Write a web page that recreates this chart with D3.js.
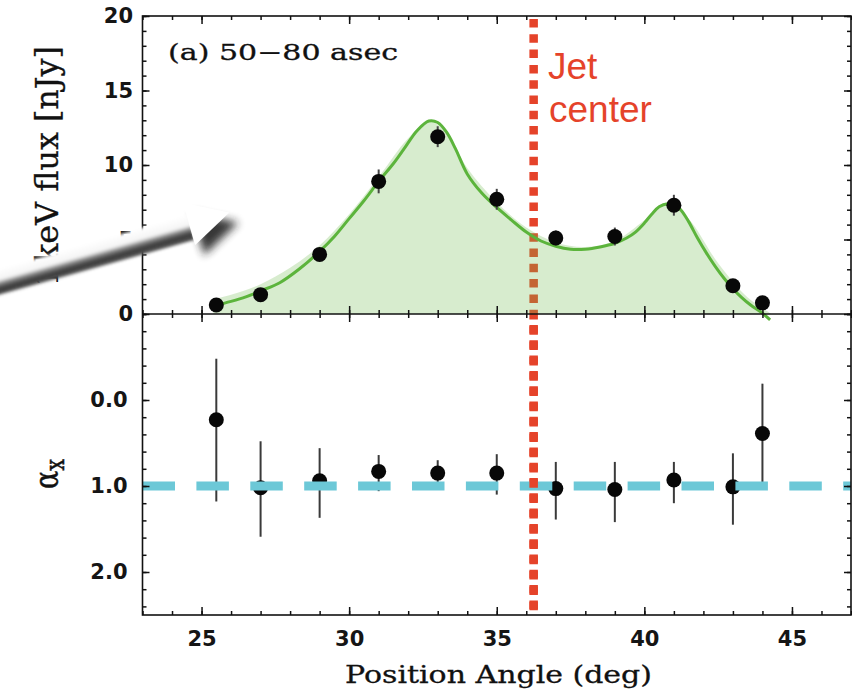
<!DOCTYPE html>
<html><head><meta charset="utf-8">
<script src="https://cdn.jsdelivr.net/npm/d3@7"></script>
<style>body{margin:0;background:#fff}svg{display:block}</style>
</head><body>
<svg id="c" width="852" height="691"></svg>
<script>
// ---- data ----
const posAngle = [25.5,27,29,31,33,35,37,39,41,43,44];
const flux     = [0.6,1.3,4.0,8.9,11.9,7.7,5.1,5.2,7.3,1.9,0.75];
const fluxErr  = [0.3,0.3,0.4,0.8,0.7,0.7,0.5,0.6,0.7,0.4,0.3];
const alphaX   = [0.23,1.02,0.94,0.83,0.85,0.85,1.03,1.04,0.93,1.01,0.39];
const alphaLo  = [-0.48,0.48,0.56,0.64,0.70,0.63,0.72,0.72,0.72,0.62,-0.19];
const alphaHi  = [1.18,1.59,1.37,1.06,0.99,1.10,1.39,1.42,1.20,1.45,0.97];
const modelX = [25.4,26,26.5,27,27.65,28.3,29,29.5,30,30.5,31,31.5,31.9,32.3,32.7,33.0,33.3,33.6,34.0,34.5,35,35.5,36,36.5,37,37.5,38,38.5,39,39.4,39.7,40.0,40.25,40.5,40.8,41.0,41.25,41.5,41.8,42.1,42.4,42.7,43,43.3,43.6,44.0,44.26];
const modelY = [0.55,0.85,1.15,1.55,2.1,3.0,4.2,5.2,6.4,7.6,8.9,10.1,11.2,12.3,12.95,12.85,12.2,11.1,9.4,8.1,7.15,6.3,5.5,4.9,4.55,4.35,4.35,4.5,4.75,5.1,5.5,6.1,6.7,7.2,7.4,7.35,6.95,6.2,5.1,4.1,3.2,2.4,1.7,1.1,0.6,0.05,-0.4];
const fillX = [25.4,26,27,28,29,30,31,32,32.7,33.3,34,35,36,37,38,39,40,40.8,41.5,42.5,43.5,44.0,44.3];
const fillY = [1.0,1.3,2.0,3.1,4.6,6.7,9.2,11.8,12.9,12.2,9.8,7.5,5.8,4.8,4.5,4.9,6.3,7.5,6.4,3.4,1.1,0.4,0];
const jetCenter = 36.25;
const alphaRef = 1.0;
const xMajor = [25,30,35,40,45];
const fluxTicks = [0,5,10,15,20];
const alphaTicks = [0,1,2];

// ---- layout ----
const L = 142.5, R = 851, T = 16, M = 314, B = 615;
const svg = d3.select("#c");
const x = d3.scaleLinear().domain([23,47]).range([L,R]);
const yF = d3.scaleLinear().domain([0,20]).range([M,T]);
const yA = d3.scaleLinear().domain([-1,2.5]).range([M,B]);

const defs = svg.append("defs");
defs.append("filter").attr("id","blur").attr("x","-50%").attr("y","-80%").attr("width","200%").attr("height","260%")
  .append("feGaussianBlur").attr("stdDeviation",4);
defs.append("filter").attr("id","soft").attr("x","-10%").attr("y","-80%").attr("width","120%").attr("height","260%")
  .append("feGaussianBlur").attr("stdDeviation",1.6);
const grad = defs.append("linearGradient").attr("id","shaftGrad").attr("gradientUnits","userSpaceOnUse")
  .attr("x1",0).attr("y1",-13).attr("x2",0).attr("y2",13);
[[0,"#ffffff"],[0.42,"#f4f4f4"],[0.55,"#8a8a8a"],[0.75,"#3a3a3a"],[1,"#555555"]].forEach(s=>
  grad.append("stop").attr("offset",s[0]).attr("stop-color",s[1]));

// jet center line (under the fill)
svg.append("line").attr("x1",x(jetCenter)).attr("x2",x(jetCenter)).attr("y1",19).attr("y2",612)
  .attr("stroke","#e5432a").attr("stroke-width",8.5).attr("stroke-dasharray","8.5,6.8");

// fill
const fillData = fillX.map((v,i)=>[v,fillY[i]]);
svg.append("path").datum(fillData)
  .attr("d", d3.area().x(d=>x(d[0])).y0(yF(0)).y1(d=>yF(d[1])).curve(d3.curveCatmullRom))
  .attr("fill","rgb(110,185,80)").attr("fill-opacity",0.28);

// model curve
const modelData = modelX.map((v,i)=>[v,modelY[i]]);
svg.append("path").datum(modelData)
  .attr("d", d3.line().x(d=>x(d[0])).y(d=>yF(d[1])).curve(d3.curveCatmullRom))
  .attr("fill","none").attr("stroke","rgb(92,180,60)").attr("stroke-width",3);

// top points
const gTop = svg.append("g");
posAngle.forEach((p,i)=>{
  gTop.append("line").attr("x1",x(p)).attr("x2",x(p)).attr("y1",yF(flux[i]-fluxErr[i])).attr("y2",yF(flux[i]+fluxErr[i]))
    .attr("stroke","#444").attr("stroke-width",2);
  gTop.append("circle").attr("cx",x(p)).attr("cy",yF(flux[i])).attr("r",7.5).attr("fill","#080808");
});

// bottom points
const gBot = svg.append("g");
posAngle.forEach((p,i)=>{
  gBot.append("line").attr("x1",x(p)).attr("x2",x(p)).attr("y1",yA(alphaLo[i])).attr("y2",yA(alphaHi[i]))
    .attr("stroke","#3a3a3a").attr("stroke-width",2);
  gBot.append("circle").attr("cx",x(p)).attr("cy",yA(alphaX[i])).attr("r",7.5).attr("fill","#080808");
});

// cyan reference
svg.append("line").attr("x1",L).attr("x2",R).attr("y1",yA(alphaRef)).attr("y2",yA(alphaRef))
  .attr("stroke","rgb(108,200,215)").attr("stroke-width",9).attr("stroke-dasharray","32.5,21.4");

// red line over cyan in bottom panel
svg.append("line").attr("x1",x(jetCenter)).attr("x2",x(jetCenter)).attr("y1",M+4).attr("y2",612)
  .attr("stroke","#e5432a").attr("stroke-width",8.5).attr("stroke-dasharray","8.5,6.8")
  .attr("stroke-dashoffset", -((M+4-19)));

// ---- axes ----
const tickFont = "DejaVu Sans, Verdana, sans-serif";
function styleAxis(g, labels){
  g.select(".domain").remove();
  g.selectAll(".tick line").attr("stroke","#111").attr("stroke-width",1.5);
  g.selectAll(".tick text").attr("fill","#151515").style("font-family",tickFont).style("font-weight","bold").style("font-size","21px");
  if(!labels) g.selectAll(".tick text").remove();
}
const minorX = d3.range(23,48,1);
const minorF = d3.range(0,21,1);
const minorA = d3.range(-1,2.5001,0.2).map(v=>+v.toFixed(2));

styleAxis(svg.append("g").attr("transform",`translate(0,${B})`)
  .call(d3.axisBottom(x).tickValues(xMajor).tickSize(-8).tickPadding(16).tickFormat(d3.format("d"))), true);
styleAxis(svg.append("g").attr("transform",`translate(0,${B})`)
  .call(d3.axisBottom(x).tickValues(minorX).tickSize(-4).tickFormat("")), false);
styleAxis(svg.append("g").attr("transform",`translate(0,${T})`)
  .call(d3.axisTop(x).tickValues(xMajor).tickSize(-8).tickFormat("")), false);
styleAxis(svg.append("g").attr("transform",`translate(0,${T})`)
  .call(d3.axisTop(x).tickValues(minorX).tickSize(-4).tickFormat("")), false);
styleAxis(svg.append("g").attr("transform",`translate(0,${M})`)
  .call(d3.axisBottom(x).tickValues(xMajor).tickSize(-8).tickFormat("")), false);
styleAxis(svg.append("g").attr("transform",`translate(0,${M})`)
  .call(d3.axisBottom(x).tickValues(xMajor).tickSize(8).tickFormat("")), false);
styleAxis(svg.append("g").attr("transform",`translate(0,${M})`)
  .call(d3.axisBottom(x).tickValues(minorX).tickSize(-4).tickFormat("")), false);
styleAxis(svg.append("g").attr("transform",`translate(0,${M})`)
  .call(d3.axisBottom(x).tickValues(minorX).tickSize(4).tickFormat("")), false);
styleAxis(svg.append("g").attr("transform",`translate(${L},0)`)
  .call(d3.axisLeft(yF).tickValues(fluxTicks).tickSize(-7).tickPadding(9.5).tickFormat(d3.format("d"))), true);
styleAxis(svg.append("g").attr("transform",`translate(${L},0)`)
  .call(d3.axisLeft(yF).tickValues(minorF).tickSize(-4).tickFormat("")), false);
styleAxis(svg.append("g").attr("transform",`translate(${L},0)`)
  .call(d3.axisLeft(yA).tickValues(alphaTicks).tickSize(-7).tickPadding(15).tickFormat(d3.format(".1f"))), true);
styleAxis(svg.append("g").attr("transform",`translate(${L},0)`)
  .call(d3.axisLeft(yA).tickValues(minorA).tickSize(-4).tickFormat("")), false);
styleAxis(svg.append("g").attr("transform",`translate(${R},0)`)
  .call(d3.axisRight(yF).tickValues(fluxTicks).tickSize(-7).tickFormat("")), false);
styleAxis(svg.append("g").attr("transform",`translate(${R},0)`)
  .call(d3.axisRight(yF).tickValues(minorF).tickSize(-4).tickFormat("")), false);
styleAxis(svg.append("g").attr("transform",`translate(${R},0)`)
  .call(d3.axisRight(yA).tickValues(alphaTicks).tickSize(-7).tickFormat("")), false);
styleAxis(svg.append("g").attr("transform",`translate(${R},0)`)
  .call(d3.axisRight(yA).tickValues(minorA).tickSize(-4).tickFormat("")), false);

// frame
svg.append("rect").attr("x",L).attr("y",T).attr("width",R-L).attr("height",B-T)
  .attr("fill","none").attr("stroke","#111").attr("stroke-width",1.6);
svg.append("line").attr("x1",L).attr("x2",R).attr("y1",M).attr("y2",M).attr("stroke","#111").attr("stroke-width",1.6);

// ---- texts ----
const serif = "DejaVu Serif, serif";
svg.append("text").attr("x",168).attr("y",60).attr("textLength",230).attr("lengthAdjust","spacingAndGlyphs")
  .style("font-family",serif).style("font-size","22px").attr("fill","#111")
  .attr("stroke","#111").attr("stroke-width",0.3).text("(a) 50\u221280  asec");

svg.append("text").attr("x",548).attr("y",79).style("font-family","Liberation Sans, Arial, sans-serif")
  .style("font-size","37px").attr("fill","#e5432a").text("Jet");
svg.append("text").attr("x",549).attr("y",122).style("font-family","Liberation Sans, Arial, sans-serif")
  .style("font-size","37px").attr("fill","#e5432a").text("center");

svg.append("text").attr("x",345).attr("y",683).attr("textLength",307).attr("lengthAdjust","spacingAndGlyphs")
  .style("font-family",serif).style("font-size","25px").attr("fill","#111")
  .attr("stroke","#111").attr("stroke-width",0.3).text("Position Angle (deg)");

svg.append("text").attr("transform","translate(58,263) scale(1.1,1) rotate(-90)").attr("textLength",217).attr("lengthAdjust","spacingAndGlyphs")
  .style("font-family",serif).style("font-size","28px").attr("fill","#111")
  .attr("stroke","#111").attr("stroke-width",0.3).text("keV flux [nJy]");
svg.append("text").attr("transform","translate(58,286) scale(1.1,1) rotate(-90)")
  .style("font-family",serif).style("font-size","28px").attr("fill","#111").text("1");

const al = svg.append("text").attr("transform","translate(58,489) scale(1.25,1) rotate(-90)")
  .style("font-family",serif).attr("fill","#111").attr("stroke","#111").attr("stroke-width",0.4);
al.append("tspan").style("font-size","27px").text("\u03B1");
al.append("tspan").attr("dy",5).style("font-size","21px").text("x");

// ---- annotation arrow ----
const ang = -15.9;
const headPts = [[0,-22],[42,0],[0,22]];
// head shadow
svg.append("polygon").attr("points",headPts.map(p=>p.join(",")).join(" "))
  .attr("transform",`translate(198,234) rotate(${ang})`).attr("fill","#222").attr("opacity",0.9).attr("filter","url(#blur)");
// shaft (light top, dark bottom)
const shaftPts = [[-200,-12],[50,-13],[50,13],[-200,12]];
svg.append("polygon").attr("points",shaftPts.map(p=>p.join(",")).join(" "))
  .attr("transform",`translate(143,241) rotate(${ang})`).attr("fill","url(#shaftGrad)").attr("filter","url(#soft)");
// white head
svg.append("polygon").attr("points",headPts.map(p=>p.join(",")).join(" "))
  .attr("transform",`translate(189,224) rotate(${ang})`).attr("fill","#fff");
</script>
</body></html>
